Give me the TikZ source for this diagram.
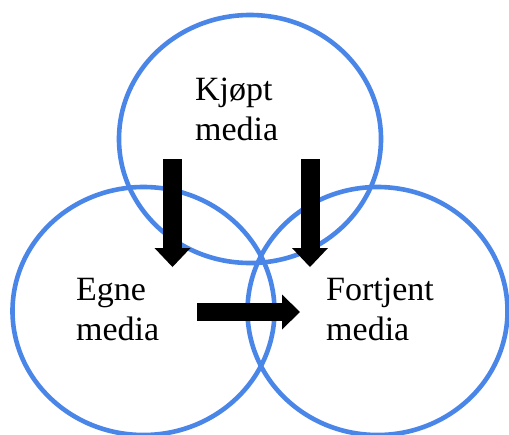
\documentclass[tikz,border=0pt]{standalone}
\usepackage{fontspec}
\setmainfont{Liberation Serif}
\usetikzlibrary{arrows.meta}
\definecolor{ringblue}{RGB}{74,134,232}
\tikzset{
  ring/.style={draw=ringblue, line width=4.6pt},
  lbl/.style={anchor=base west, inner sep=0pt, font=\fontsize{34}{40}\selectfont},
  bigarrow/.style={draw=black, line width=19pt,
    -{Triangle[width=36pt,length=19pt,line width=0pt]}}
}
\begin{document}
\begin{tikzpicture}[x=1pt,y=-1pt]
\useasboundingbox (0,0) rectangle (509,434);
\clip (0,0) rectangle (509,434);
\fill[white] (0,0) rectangle (509,434);
% circles
\draw[ring] (250,139) ellipse [x radius=131pt, y radius=124pt];
\draw[ring] (143.5,311) ellipse [x radius=131pt, y radius=124pt];
\draw[ring] (377.5,311) ellipse [x radius=130pt, y radius=124pt];
% labels
\node[lbl] (k1) at (195,100) {Kjøpt};
\node[lbl] (k2) at (195,140) {media};
\node[lbl] (e1) at (76,300) {Egne};
\node[lbl] (e2) at (76,340) {media};
\node[lbl] (f1) at (326,300) {Fortjent};
\node[lbl] (f2) at (326,340) {media};
% arrows
\coordinate (a1s) at (172.5,159);
\coordinate (a1e) at (172.5,267);
\coordinate (a2s) at (310,159);
\coordinate (a2e) at (310,267);
\coordinate (a3s) at (197,312);
\coordinate (a3e) at (300,312);
\draw[bigarrow] (a1s) -- (a1e);
\draw[bigarrow] (a2s) -- (a2e);
\draw[bigarrow, line width=18pt, -{Triangle[width=35pt,length=18pt,line width=0pt]}] (a3s) -- (a3e);
\end{tikzpicture}
\end{document}
